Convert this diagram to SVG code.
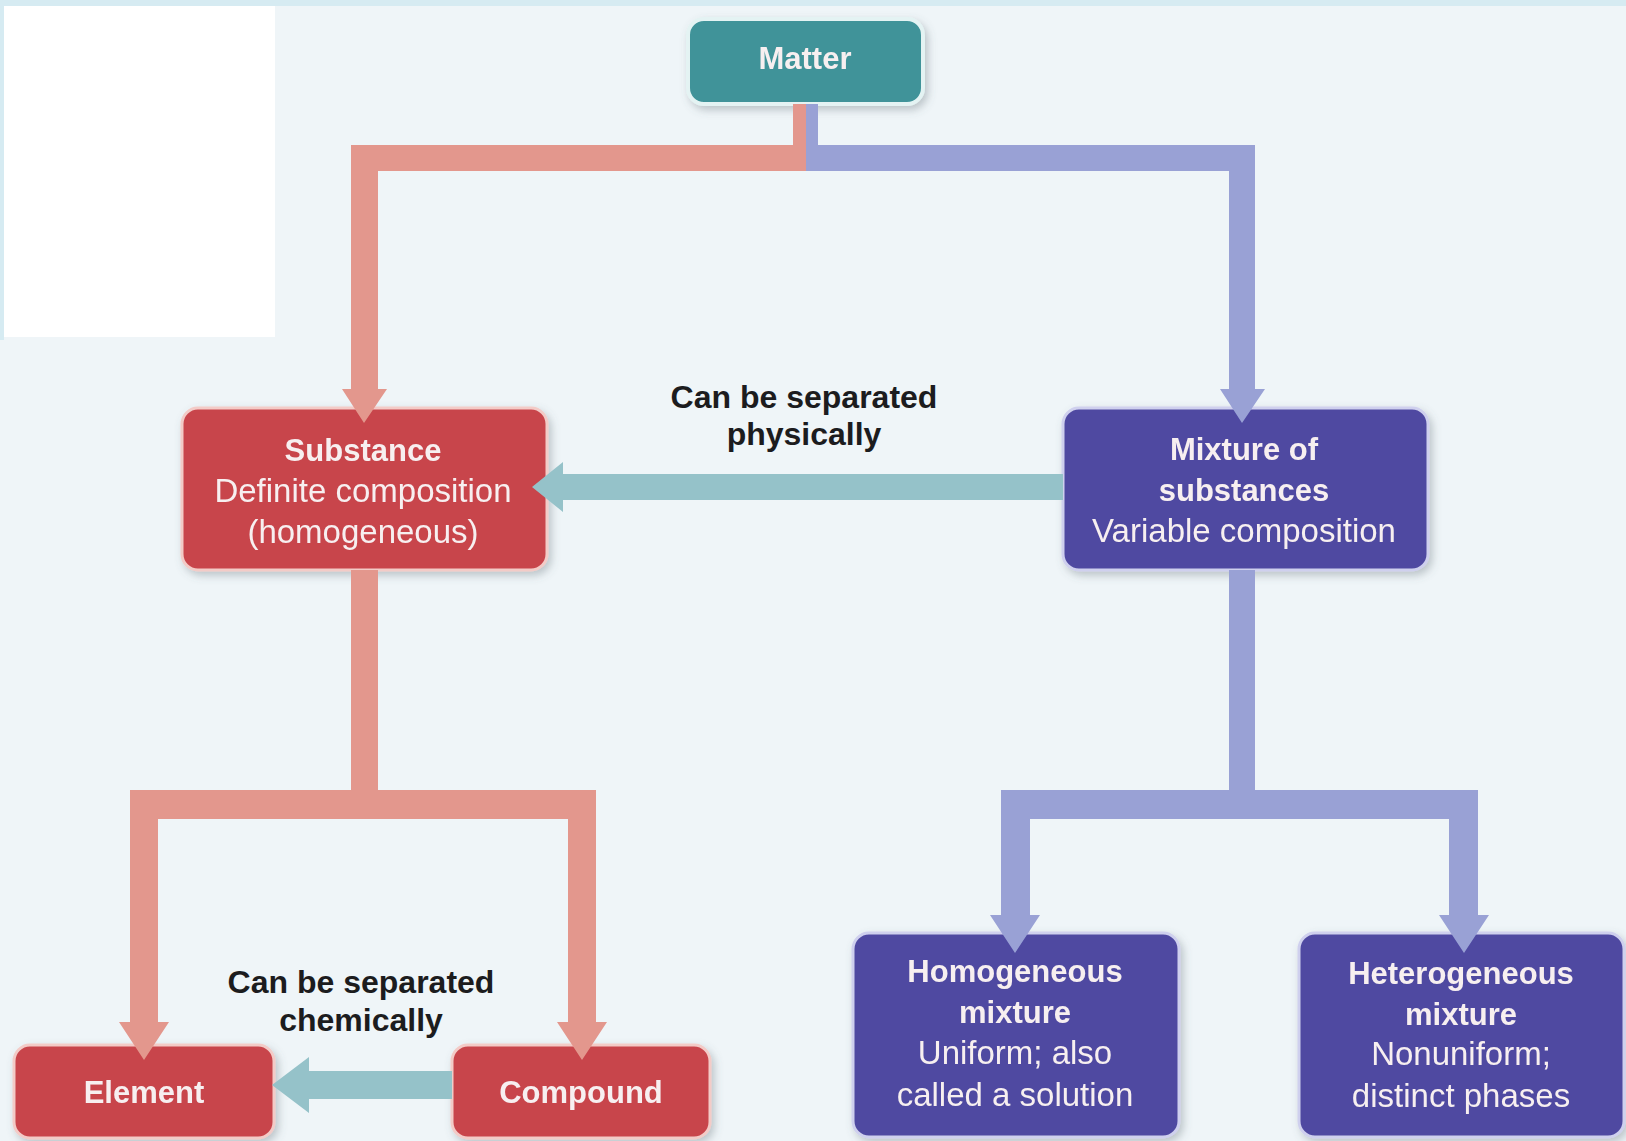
<svg xmlns="http://www.w3.org/2000/svg" width="1626" height="1141" viewBox="0 0 1626 1141">
<style>
.red{fill:#c8444b;stroke:#f3cbc7;stroke-width:3}
.ind{fill:#4f4aa1;stroke:#cfd0ee;stroke-width:3}
.teal{fill:#3f9399;stroke:#e4f3f3;stroke-width:4}
.t{font-family:"Liberation Sans",Arial,sans-serif;fill:#f7eff0;text-anchor:middle}
.b{font-weight:bold;font-size:31px}
.r{font-size:33px}
.lbl{font-family:"Liberation Sans",Arial,sans-serif;font-weight:bold;font-size:32px;fill:#1c1c1e;text-anchor:middle}
.pk{fill:#e3978d}
.bl{fill:#99a1d5}
.tq{fill:#95c2c9}
</style>
<defs>
<filter id="sh" x="-10%" y="-10%" width="125%" height="130%">
<feDropShadow dx="3" dy="4" stdDeviation="4" flood-color="#5a6870" flood-opacity="0.35"/>
</filter>
</defs>
<rect x="0" y="0" width="1626" height="1141" fill="#eff5f8"/>
<rect x="0" y="0" width="1626" height="6" fill="#d6ebf2"/>
<rect x="0" y="0" width="4" height="340" fill="#d6ebf2"/>
<rect x="4" y="6" width="271" height="331" fill="#ffffff"/>

<g id="node-matter" filter="url(#sh)">
<rect class="teal" x="688" y="19" width="235" height="85" rx="16"/>
<text class="t b" x="805" y="69" font-size="32">Matter</text>
</g>
<g id="node-substance" filter="url(#sh)">
<rect class="red" x="182" y="408" width="365" height="162" rx="16"/>
<text class="t b" x="363" y="461">Substance</text>
<text class="t r" x="363" y="502">Definite composition</text>
<text class="t r" x="363" y="543">(homogeneous)</text>
</g>
<g id="node-mixture" filter="url(#sh)">
<rect class="ind" x="1063" y="408" width="365" height="162" rx="16"/>
<text class="t b" x="1244" y="460">Mixture of</text>
<text class="t b" x="1244" y="501">substances</text>
<text class="t r" x="1244" y="542">Variable composition</text>
</g>
<g id="node-element" filter="url(#sh)">
<rect class="red" x="14" y="1045" width="260" height="93" rx="16"/>
<text class="t b" x="144" y="1103" font-size="32">Element</text>
</g>
<g id="node-compound" filter="url(#sh)">
<rect class="red" x="452" y="1045" width="258" height="93" rx="16"/>
<text class="t b" x="581" y="1103" font-size="32">Compound</text>
</g>
<g id="node-homogeneous" filter="url(#sh)">
<rect class="ind" x="853" y="933" width="326" height="204" rx="16"/>
<text class="t b" x="1015" y="982">Homogeneous</text>
<text class="t b" x="1015" y="1023">mixture</text>
<text class="t r" x="1015" y="1064">Uniform; also</text>
<text class="t r" x="1015" y="1106">called a solution</text>
</g>
<g id="node-heterogeneous" filter="url(#sh)">
<rect class="ind" x="1299" y="933" width="325" height="204" rx="16"/>
<text class="t b" x="1461" y="984">Heterogeneous</text>
<text class="t b" x="1461" y="1025">mixture</text>
<text class="t r" x="1461" y="1065">Nonuniform;</text>
<text class="t r" x="1461" y="1107">distinct phases</text>
</g>

<g id="connectors">
<!-- Matter to Substance -->
<path class="pk" d="M793,104 H806 V171 H378 V389 H387 L364,423 L342,389 H351 V145 H793 Z"/>
<!-- Matter to Mixture -->
<path class="bl" d="M806,104 H818 V145 H1255 V389 H1265 L1242,423 L1220,389 H1229 V171 H806 Z"/>
<!-- Mixture to Substance (physically) -->
<path class="tq" d="M1063,474 V500 H563 V512 L532,487 L563,462 V474 Z"/>
<!-- Substance to Element / Compound -->
<path class="pk" d="M351,570 H378 V790 H596 V1022 H607 L582,1060 L557,1022 H568 V819 H158 V1022 H169 L144,1060 L119,1022 H130 V790 H351 Z"/>
<!-- Compound to Element (chemically) -->
<path class="tq" d="M452,1071 V1099 H309 V1113 L272,1085 L309,1057 V1071 Z"/>
<!-- Mixture to Homogeneous / Heterogeneous -->
<path class="bl" d="M1229,570 H1255 V790 H1478 V915 H1489 L1464,953 L1439,915 H1449 V819 H1030 V915 H1040 L1015,953 L990,915 H1001 V790 H1229 Z"/>
</g>

<g id="labels">
<text class="lbl" x="804" y="408">Can be separated</text>
<text class="lbl" x="804" y="445">physically</text>
<text class="lbl" x="361" y="993">Can be separated</text>
<text class="lbl" x="361" y="1031">chemically</text>
</g>
</svg>
